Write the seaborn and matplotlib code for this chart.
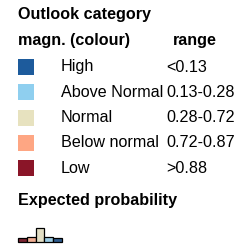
import numpy as np
import pandas as pd
import matplotlib
matplotlib.use("Agg")
import matplotlib.pyplot as plt
import seaborn as sns

# donnees de la legende
categories = ["High", "Above Normal", "Normal", "Below normal", "Low"]
ranges = ["<0.13", "0.13-0.28", "0.28-0.72", "0.72-0.87", ">0.88"]
colours = ["#1d5b9c", "#8fcfef", "#e7e2bf", "#fea683", "#8a1528"]

# distribution attendue (de Low a High)
prob_cats = ["Low", "Below normal", "Normal", "Above Normal", "High"]
prob_values = [0.12, 0.15, 0.44, 0.15, 0.13]

sns.set_theme(style="white")
plt.rcParams["font.family"] = ["Liberation Sans", "DejaVu Sans"]
plt.rcParams["text.color"] = "black"

W, H = 242, 246
fig = plt.figure(figsize=(W / 100, H / 100), dpi=100)

# axe plein cadre en pixels
ax = fig.add_axes([0, 0, 1, 1])

fs = 11.6
fsb = 11.6

y0, dy = 67, 25.3
rows = pd.DataFrame({
    "cat": categories,
    "range": ranges,
    "y": [y0 + i * dy for i in range(len(categories))],
    "x": [26] * len(categories),
})

sns.scatterplot(data=rows, x="x", y="y", hue="cat", palette=colours,
                marker="s", s=130, linewidth=0, legend=False, ax=ax)
ax.set_xlim(0, W)
ax.set_ylim(H, 0)
ax.axis("off")

ax.text(18, 14, "Outlook category", fontsize=fsb, fontweight="bold", va="center", ha="left")
ax.text(18, 41, "magn. (colour)", fontsize=fsb, fontweight="bold", va="center", ha="left")
ax.text(173, 41, "range", fontsize=fsb, fontweight="bold", va="center", ha="left")

for _, r in rows.iterrows():
    ax.text(61, r["y"], r["cat"], fontsize=fs, va="center", ha="left")
    ax.text(166, r["y"], r["range"], fontsize=fs, va="center", ha="left")

ax.text(18, 200, "Expected probability", fontsize=fsb, fontweight="bold", va="center", ha="left")

# petit histogramme
bx = fig.add_axes([18 / W, (H - 242) / H, 44 / W, 14 / H])
pdf = pd.DataFrame({"cat": prob_cats, "p": prob_values})
sns.barplot(data=pdf, x="cat", y="p", hue="cat", palette=colours[::-1],
            width=1.0, edgecolor="black", linewidth=0.9, legend=False, ax=bx)
for p in bx.patches:
    p.set_clip_on(False)
bx.set_ylim(0, max(prob_values))
bx.set_xlim(-0.5, len(prob_cats) - 0.5)
bx.axis("off")

fig.savefig("out.png", dpi=100)
